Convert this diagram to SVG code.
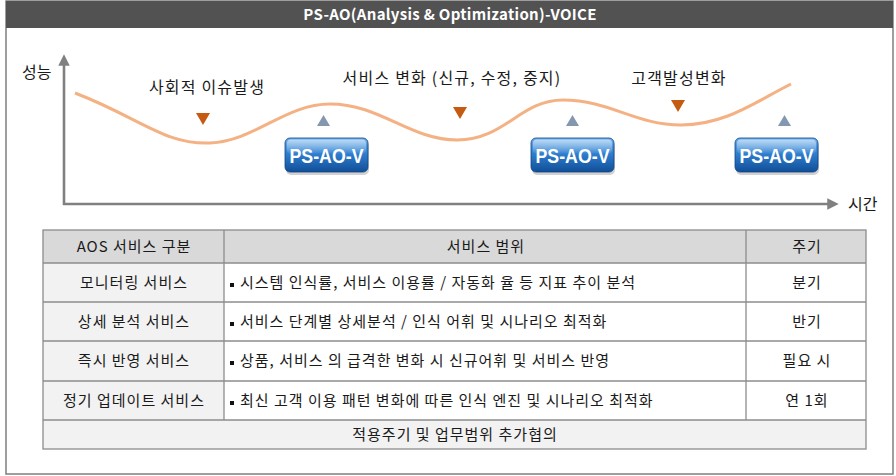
<svg xmlns="http://www.w3.org/2000/svg" width="896" height="476" viewBox="0 0 896 476">
<style>
.kr{font-family:"Noto Sans CJK KR","Noto Sans",sans-serif;fill:#1a1a1a}
.lbl{font-size:16px;letter-spacing:1.2px}
.tt{font-size:15px;letter-spacing:1px}
.cell{stroke:#8c8c8c;stroke-width:1.3}
.btn-t{font-family:"Liberation Sans",Arial,sans-serif;font-weight:bold;font-size:20px;fill:#fff}
.down{fill:#C55A11}
.up{fill:#8497B0}
.axis{stroke:#808080;stroke-width:2.6;fill:none}
</style>
<defs>
<linearGradient id="bg" x1="0" y1="0" x2="0" y2="1">
<stop offset="0" stop-color="#6FB0EC"/>
<stop offset="0.45" stop-color="#2F7FD0"/>
<stop offset="1" stop-color="#114E97"/>
</linearGradient>
<linearGradient id="gl" x1="0" y1="0" x2="0" y2="1">
<stop offset="0" stop-color="#ffffff" stop-opacity="0.55"/>
<stop offset="1" stop-color="#ffffff" stop-opacity="0.05"/>
</linearGradient>
<marker id="ah" viewBox="0 0 10 10" refX="5" refY="5" markerWidth="4.4" markerHeight="4.4" orient="auto">
<path d="M0,0 L10,5 L0,10 z" fill="#808080"/>
</marker>
<g id="btn">
<rect x="1" y="3" width="83" height="34" rx="5" fill="#000" opacity="0.18"/>
<rect x="0" y="0" width="83" height="34" rx="5" fill="url(#bg)" stroke="#0E4586" stroke-width="0.8"/>
<rect x="2" y="1.5" width="79" height="14" rx="4" fill="url(#gl)"/>
<text x="41.5" y="25" text-anchor="middle" class="btn-t" textLength="74" lengthAdjust="spacingAndGlyphs">PS-AO-V</text>
</g>
</defs>

<!-- frame -->
<g id="frame">
<rect x="6" y="1" width="887" height="473" fill="#fff" stroke="#7f7f7f" stroke-width="1.5"/>
<rect x="6" y="1" width="887" height="27" fill="#525252"/>
<text x="450" y="20" text-anchor="middle" font-family="'Noto Sans CJK KR','Noto Sans',sans-serif" font-weight="bold" font-size="15" letter-spacing="0.3" fill="#fff">PS-AO(Analysis &amp; Optimization)-VOICE</text>
</g>

<!-- axes -->
<g id="connectors">
<line class="axis" x1="64" y1="205" x2="64" y2="60" marker-end="url(#ah)"/>
<line class="axis" x1="63" y1="204" x2="833" y2="204" marker-end="url(#ah)"/>
<path d="M75,93 C140,118 165,145 210,143 C255,141 285,104 330,104 C380,104 410,140 457,140 C505,140 520,100 563,100 C610,100 635,125 681,125 C725,125 755,102 791,84" fill="none" stroke="#F4B183" stroke-width="3"/>
</g>

<g id="axis-labels">
<text class="kr" x="22" y="78" font-size="16">성능</text>
<text class="kr" x="848" y="210" font-size="16">시간</text>
</g>

<g id="events">
<text class="kr lbl" x="207" y="93" text-anchor="middle">사회적 이슈발생</text>
<polygon class="down" points="196,113 210,113 203,125"/>
<text class="kr lbl" x="452" y="84" text-anchor="middle">서비스 변화 (신규, 수정, 중지)</text>
<polygon class="down" points="453,107 467,107 460,119"/>
<text class="kr lbl" x="679" y="84" text-anchor="middle">고객발성변화</text>
<polygon class="down" points="671,100 685,100 678,112"/>
</g>

<g id="psaov1">
<polygon class="up" points="317,126 330,126 323.5,115"/>
<use href="#btn" x="285" y="138"/>
</g>
<g id="psaov2">
<polygon class="up" points="566,126 579,126 572.5,115"/>
<use href="#btn" x="531" y="138"/>
</g>
<g id="psaov3">
<polygon class="up" points="778,126 791,126 784.5,115"/>
<use href="#btn" x="735" y="138"/>
</g>

<!-- table -->
<g id="table">
<rect x="43" y="230" width="823" height="33" fill="#D9D9D9"/>
<rect x="43" y="263" width="181" height="157" fill="#F2F2F2"/>
<rect x="224" y="263" width="642" height="157" fill="#fff"/>
<rect x="43" y="420" width="823" height="29" fill="#F2F2F2"/>
<g class="cell">
<rect x="43" y="230" width="823" height="219" fill="none"/>
<line x1="43" y1="263" x2="866" y2="263"/>
<line x1="43" y1="302" x2="866" y2="302"/>
<line x1="43" y1="341" x2="866" y2="341"/>
<line x1="43" y1="381" x2="866" y2="381"/>
<line x1="43" y1="420" x2="866" y2="420"/>
<line x1="224" y1="230" x2="224" y2="420"/>
<line x1="746" y1="230" x2="746" y2="420"/>
</g>
<g class="kr tt" text-anchor="middle">
<text x="134" y="252">AOS 서비스 구분</text>
<text x="486" y="252">서비스 범위</text>
<text x="807" y="252">주기</text>
<text x="134" y="288">모니터링 서비스</text>
<text x="134" y="327">상세 분석 서비스</text>
<text x="134" y="366">즉시 반영 서비스</text>
<text x="134" y="406">정기 업데이트 서비스</text>
<text x="807" y="288">분기</text>
<text x="807" y="327">반기</text>
<text x="807" y="366">필요 시</text>
<text x="807" y="406">연 1회</text>
<text x="455" y="440">적용주기 및 업무범위 추가협의</text>
</g>
<g fill="#111">
<rect x="230" y="283" width="4" height="4"/>
<rect x="230" y="322" width="4" height="4"/>
<rect x="230" y="361" width="4" height="4"/>
<rect x="230" y="401" width="4" height="4"/>
</g>
<g class="kr tt">
<text x="240" y="288">시스템 인식률, 서비스 이용률 / 자동화 율 등 지표 추이 분석</text>
<text x="240" y="327">서비스 단계별 상세분석 / 인식 어휘 및 시나리오 최적화</text>
<text x="240" y="366">상품, 서비스 의 급격한 변화 시 신규어휘 및 서비스 반영</text>
<text x="240" y="406">최신 고객 이용 패턴 변화에 따른 인식 엔진 및 시나리오 최적화</text>
</g>
</g>
</svg>
